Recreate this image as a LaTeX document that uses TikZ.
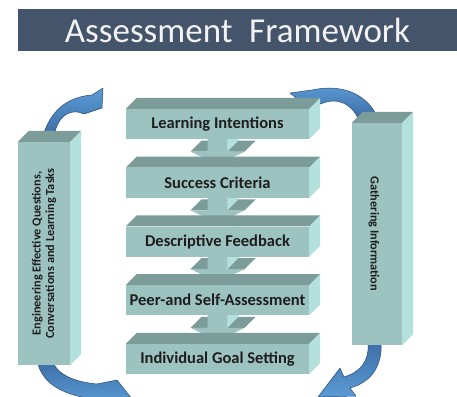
\documentclass[tikz,border=0pt]{standalone}
\usepackage{fontspec}
\setmainfont{Carlito}
\usetikzlibrary{calc,backgrounds}
\pgfdeclarelayer{canvas}
\pgfsetlayers{canvas,background,main}
\definecolor{frontc}{HTML}{9DC3C0}
\definecolor{topc}{HTML}{7B9C99}
\definecolor{sidec}{HTML}{B4E0DD}
\definecolor{titlebg}{HTML}{44546A}
\definecolor{titletx}{HTML}{F2F2F2}
\definecolor{textc}{HTML}{1E1E1E}
\definecolor{arrowlt}{HTML}{5B9BD5}
\definecolor{arrowdk}{HTML}{3C6DA6}
\definecolor{arrowln}{HTML}{2B4A70}
\tikzset{
  slab/.style={fill=frontc, minimum width=183pt, minimum height=30pt, inner sep=0pt,
    font=\fontsize{16.5}{18}\selectfont\bfseries, text=textc},
  pillar/.style={fill=frontc, inner sep=0pt},
  pillartext/.style={font=\fontsize{12.3}{13.5}\selectfont\bfseries, text=textc, align=center, inner sep=0pt},
  titlebox/.style={fill=titlebg, text=titletx, minimum width=439pt, minimum height=42pt,
    inner sep=0pt, font=\fontsize{35}{38}\selectfont},
  bluearrow/.style={draw=arrowln, line width=0.5pt, line join=round},
}
\newcommand\extrude[1]{%
  \fill[topc] (#1.north west) -- ++(11,-11) -- ($(#1.north east)+(11,-11)$) -- (#1.north east) -- cycle;
  \fill[sidec] (#1.north east) -- ++(11,-11) -- ($(#1.south east)+(11,-11)$) -- (#1.south east) -- cycle;
}
\newcommand\blockdown[2]{%
  \coordinate (s) at ($(#1.south)+(0,-20)$);
  \coordinate (b) at ($(#2.north)+(0,-16)$);
  \coordinate (t) at ($(#2.north)+(0,-3)$);
  \coordinate (slt) at ($(s)+(-10,0)$);
  \coordinate (srt) at ($(s)+(10,0)$);
  \coordinate (slb) at ($(s|-b)+(-10,0)$);
  \coordinate (srb) at ($(s|-b)+(10,0)$);
  \coordinate (bl) at ($(s|-b)+(-27,0)$);
  \coordinate (br) at ($(s|-b)+(27,0)$);
  \coordinate (tp) at (s|-t);
  \fill[sidec] (br) -- (tp) -- ($(tp)+(11,-11)$) -- ($(br)+(11,-11)$) -- cycle;
  \fill[sidec] (srt) -- (srb) -- ($(srb)+(11,-11)$) -- ($(srt)+(11,-11)$) -- cycle;
  \fill[topc] (bl) -- (slb) -- ($(slb)+(11,-11)$) -- ($(bl)+(11,-11)$) -- cycle;
  \fill[topc] (srb) -- (br) -- ($(br)+(11,-11)$) -- ($(srb)+(11,-11)$) -- cycle;
  \fill[frontc] (slt) -- (slb) -- (bl) -- (tp) -- (br) -- (srb) -- (srt) -- cycle;
}
\begin{document}
\begin{tikzpicture}[x=1pt,y=-1pt]
\useasboundingbox (0,0) rectangle (457,396);
\clip (0,0) rectangle (457,396);
\begin{pgfonlayer}{canvas}
  \fill[white] (0,0) rectangle (457,396);
\end{pgfonlayer}

% title
\node[titlebox] (title) at (237.5,30) {Assessment\hspace{0.25em} Framework};

% central steps
\node[slab] (li) at (217.5,124) {Learning Intentions};
\node[slab] (sc) at (217.5,182.75) {Success Criteria};
\node[slab] (df) at (217.5,241.5) {Descriptive Feedback};
\node[slab] (ps) at (217.5,300.25) {Peer-and Self-Assessment};
\node[slab] (ig) at (217.5,359) {Individual Goal Setting};
\extrude{li}
\extrude{sc}
\extrude{df}
\extrude{ps}
\extrude{ig}

% pillars
\node[pillar, minimum width=52pt, minimum height=223pt] (lp) at (44,253.5) {};
\node[pillar, minimum width=50pt, minimum height=222pt] (rp) at (377,234) {};
\extrude{lp}
\extrude{rp}
\node[pillartext, rotate=90] (lpt) at (lp) {Engineering Effective Questions,\\Conversations and Learning Tasks};
\node[pillartext, rotate=-90] (rpt) at (374,234) {Gathering Information};

\begin{pgfonlayer}{background}
  \blockdown{li}{sc}
  \blockdown{sc}{df}
  \blockdown{df}{ps}
  \blockdown{ps}{ig}

  % top-left curved arrow
  \shade[bluearrow, top color=arrowlt, bottom color=arrowdk]
    (43,136) .. controls (50,112) and (66,97) .. (92,95) -- (103,88) -- (102,108) -- (84,114)
    .. controls (72,108) and (58,114) .. (54,136) -- cycle;
  % top-right curved arrow
  \shade[bluearrow, top color=arrowlt, bottom color=arrowdk]
    (378,118) .. controls (366,92) and (340,84) .. (312,90) -- (290,93) -- (308,108) -- (323,103)
    .. controls (336,98) and (350,102) .. (358,118) -- cycle;
  % bottom-right curved arrow
  \shade[bluearrow, top color=arrowdk, bottom color=arrowlt]
    (368,340) .. controls (370,362) and (360,372) .. (344,377) -- (340,368) -- (318,397)
    -- (356,396) -- (350,388) .. controls (372,382) and (383,365) .. (381,340) -- cycle;
  % bottom-left curved arrow
  \shade[bluearrow, top color=arrowdk, bottom color=arrowlt]
    (37,360) .. controls (42,386) and (66,396) .. (100,400) -- (136,404) -- (117,380) -- (97,384)
    .. controls (75,382) and (57,375) .. (52,360) -- cycle;
\end{pgfonlayer}
\end{tikzpicture}
\end{document}
